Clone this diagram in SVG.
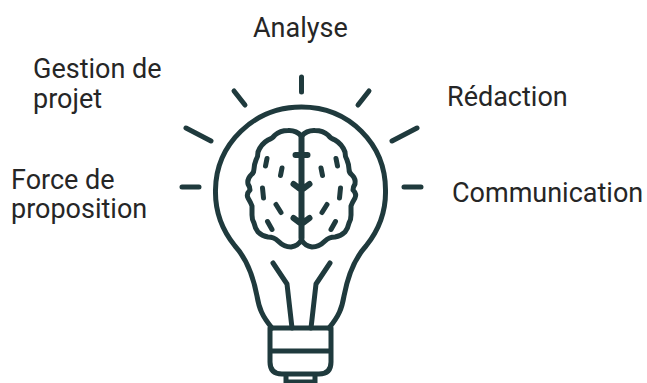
<svg xmlns="http://www.w3.org/2000/svg" width="647" height="383" viewBox="0 0 647 383">
<style>
.l{fill:none;stroke:#1f3a3d;stroke-width:5;stroke-linecap:round;stroke-linejoin:round}
.t{font-family:Roboto,"Liberation Sans",sans-serif;font-size:27px;fill:#262626}
</style>
<defs>
<g id="half">
<path class="l" d="M301.500 136Q296 130 288 130.500Q280 130.500 275 135Q272 139 268 140Q261 144 258 152Q258 157 256 160Q254 165 254 169Q254 173 251 175Q247 179 248 184Q250 187 250 190Q246 194 248 198Q251 203 252 206Q252 210 252 215Q252 220 254 223Q255 228 258 232Q262 236 268 237Q274 237 278 241Q284 247 291 247Q298 246 301.500 240"/>
<path class="l" d="M267 158.500L265.500 166M282 168L280.500 175.500M262.500 188L263.500 198M276 204.500L281 212.500M267.500 221.500L272 229.500"/>
<path class="l" d="M273 263L287 284L292 328"/>
<path class="l" d="M234 91L245 105M186 128L211 141M182 187L199 187"/>
</g>
</defs>
<g id="bulb">
<path class="l" d="M272 328C262 316 259 308 257 296C253 275 245 257 235 246C222 230 215 210 215.500 190C216 144 254 107 301.500 107C349 107 385.500 144 385.500 190C386 210 379 230 366 246C356 257 348 275 344 296C342 308 339 316 329 328"/>
<path class="l" d="M270 328H331V362Q331 374 319 374H282Q270 374 270 362ZM270 351H331M286 374V385M315 374V385M289 382H312"/>
</g>
<g id="brain">
<use href="#half"/>
<use href="#half" transform="matrix(-1 0 0 1 603 0)"/>
<path class="l" style="stroke-width:6" d="M301.500 136V238M295.500 155H307.500M293.500 184L301.500 190L309.500 184M293.500 218L301.500 224L309.500 218"/>
<path class="l" d="M301.500 77V92"/>
</g>
<g id="labels">
<text class="t" x="253" y="37">Analyse</text>
<text class="t" x="33" y="78">Gestion de</text>
<text class="t" x="33" y="107.500">projet</text>
<text class="t" x="447" y="105.500">Rédaction</text>
<text class="t" x="11" y="189">Force de</text>
<text class="t" x="11" y="217.500">proposition</text>
<text class="t" x="452" y="202">Communication</text>
</g>
<g id="connectors"/>
</svg>
